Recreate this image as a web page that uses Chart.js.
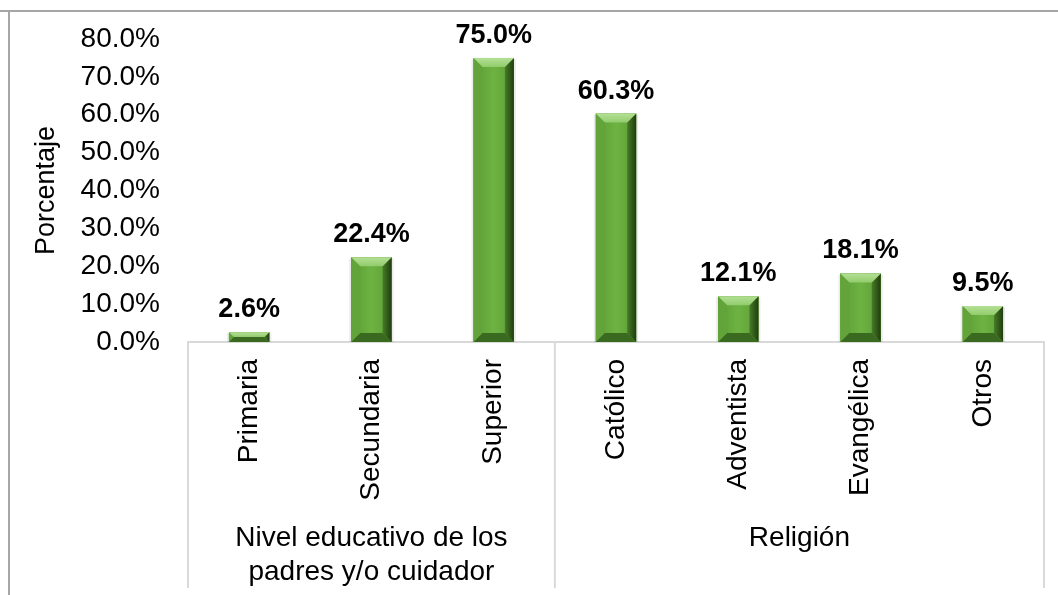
<!DOCTYPE html>
<html>
<head>
<meta charset="utf-8">
<script src="https://cdn.jsdelivr.net/npm/chart.js@4/dist/chart.umd.min.js"></script>
<style>
  html, body { margin: 0; padding: 0; background: #fff; }
  #wrap { width: 1058px; height: 595px; position: relative; }
</style>
</head>
<body>
<div id="wrap"><canvas id="chart" width="1058" height="595"></canvas></div>
<script>
// datos del gráfico
const categories = ['Primaria', 'Secundaria', 'Superior', 'Católico', 'Adventista', 'Evangélica', 'Otros'];
const values = [2.6, 22.4, 75.0, 60.3, 12.1, 18.1, 9.5];
const groupNames = [['Nivel educativo de los', 'padres y/o cuidador'], ['Religión']];
const groupSizes = [3, 4];
const yTicks = [0, 10, 20, 30, 40, 50, 60, 70, 80];

const FONT = 'Liberation Sans, Arial, sans-serif';

// marco gris de la figura
const framePlugin = {
    id: 'frame',
    beforeDraw(chart) {
        const ctx = chart.ctx;
        ctx.save();
        ctx.fillStyle = '#fff';
        ctx.fillRect(0, 0, chart.width, chart.height);
        ctx.fillStyle = '#a6a6a6';
        ctx.fillRect(0, 10, chart.width, 2);
        ctx.fillRect(8, 10, 2, chart.height - 10);
        ctx.restore();
    }
};

// efecto biselado de las barras
const bevelPlugin = {
    id: 'bevel',
    afterDatasetsDraw(chart) {
        const ctx = chart.ctx;
        const meta = chart.getDatasetMeta(0);
        ctx.save();
        meta.data.forEach(bar => {
            const w = bar.width;
            const l = bar.x - w / 2, r = bar.x + w / 2;
            const t = bar.y, b = bar.base;
            const bv = Math.min(9, (b - t) / 2);
            // sombra suave
            ctx.fillStyle = 'rgba(0,0,0,0.08)';
            ctx.fillRect(l - 2, t + 1, w + 4, b - t - 1);
            // cuerpo
            const g = ctx.createLinearGradient(l, 0, r, 0);
            g.addColorStop(0, '#5c9b35');
            g.addColorStop(0.5, '#6db342');
            g.addColorStop(1, '#5d9c36');
            ctx.fillStyle = g;
            ctx.fillRect(l, t, w, b - t);
            // lado izquierdo
            ctx.fillStyle = '#62a33a';
            ctx.beginPath();
            ctx.moveTo(l, t); ctx.lineTo(l + bv, t + bv); ctx.lineTo(l + bv, b - bv); ctx.lineTo(l, b);
            ctx.fill();
            // lado derecho oscuro
            const gr = ctx.createLinearGradient(r - bv, 0, r, 0);
            gr.addColorStop(0, '#457c27');
            gr.addColorStop(1, '#213d0e');
            ctx.fillStyle = gr;
            ctx.beginPath();
            ctx.moveTo(r, t); ctx.lineTo(r - bv, t + bv); ctx.lineTo(r - bv, b - bv); ctx.lineTo(r, b);
            ctx.fill();
            // base
            ctx.fillStyle = '#3a6a20';
            ctx.beginPath();
            ctx.moveTo(l, b); ctx.lineTo(l + bv, b - bv); ctx.lineTo(r - bv, b - bv); ctx.lineTo(r, b);
            ctx.fill();
            // tapa superior clara
            const gt = ctx.createLinearGradient(0, t, 0, t + bv);
            gt.addColorStop(0, '#b4e096');
            gt.addColorStop(1, '#92cc6c');
            ctx.fillStyle = gt;
            ctx.beginPath();
            ctx.moveTo(l, t); ctx.lineTo(r, t); ctx.lineTo(r - bv, t + bv); ctx.lineTo(l + bv, t + bv);
            ctx.fill();
        });
        ctx.restore();
    }
};

// etiquetas de datos, separadores y nombres de grupo
const labelsPlugin = {
    id: 'labels',
    afterDraw(chart) {
        const ctx = chart.ctx;
        const xs = chart.scales.x;
        const area = chart.chartArea;
        const meta = chart.getDatasetMeta(0);
        ctx.save();
        ctx.fillStyle = '#000';
        ctx.textAlign = 'center';
        ctx.textBaseline = 'alphabetic';
        ctx.font = 'bold 27px ' + FONT;
        meta.data.forEach((bar, i) => {
            ctx.fillText(values[i].toFixed(1) + '%', bar.x, bar.y - 15);
        });

        // separadores
        const edges = [area.left];
        let idx = 0;
        groupSizes.forEach(n => {
            idx += n;
            if (idx < categories.length) {
                edges.push((xs.getPixelForTick(idx - 1) + xs.getPixelForTick(idx)) / 2);
            } else {
                edges.push(area.right);
            }
        });
        ctx.strokeStyle = '#d9d9d9';
        ctx.lineWidth = 2;
        edges.forEach(x => {
            ctx.beginPath();
            ctx.moveTo(x, area.bottom);
            ctx.lineTo(x, 588);
            ctx.stroke();
        });

        // nombres de grupo
        ctx.font = '28px ' + FONT;
        ctx.textBaseline = 'middle';
        groupNames.forEach((lines, gi) => {
            const cx = (edges[gi] + edges[gi + 1]) / 2;
            lines.forEach((txt, li) => {
                ctx.fillText(txt, cx, 538 + li * 34);
            });
        });
        ctx.restore();
    }
};

const ctx = document.getElementById('chart').getContext('2d');
new Chart(ctx, {
    type: 'bar',
    data: {
        labels: categories,
        datasets: [{
            data: values,
            backgroundColor: '#6aae3e',
            barPercentage: 0.33,
            categoryPercentage: 1
        }]
    },
    options: {
        responsive: false,
        animation: false,
        layout: { padding: { top: 39, right: 14, left: 0, bottom: 0 } },
        plugins: {
            legend: { display: false },
            tooltip: { enabled: false }
        },
        scales: {
            x: {
                grid: { display: false },
                border: { display: true, color: '#d9d9d9', width: 2 },
                ticks: {
                    color: '#000',
                    font: { family: FONT, size: 28 },
                    maxRotation: 90,
                    minRotation: 90,
                    padding: 9
                },
                afterFit(scale) { scale.height = 253; }
            },
            y: {
                min: 0,
                max: 80,
                afterBuildTicks(scale) {
                    scale.ticks = yTicks.map(v => ({ value: v }));
                },
                grid: { display: false },
                border: { display: false },
                ticks: {
                    color: '#000',
                    font: { family: FONT, size: 28 },
                    padding: 20,
                    callback: v => v.toFixed(1) + '%'
                },
                title: {
                    display: true,
                    text: 'Porcentaje',
                    color: '#000',
                    font: { family: FONT, size: 27 },
                    padding: { top: 30, bottom: 0 }
                },
                afterFit(scale) { scale.width = 188; }
            }
        }
    },
    plugins: [framePlugin, bevelPlugin, labelsPlugin]
});
</script>
</body>
</html>
